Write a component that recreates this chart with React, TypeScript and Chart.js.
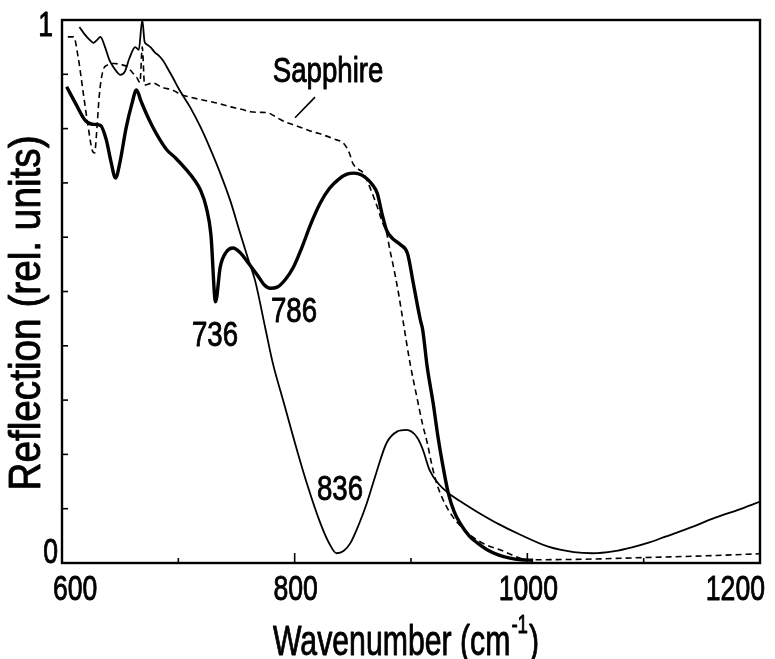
import React, { useEffect, useRef } from 'react';
import { Chart, registerables } from 'chart.js';

Chart.register(...registerables);

const FONT = '"Liberation Sans", Arial, sans-serif';

// Thick curve
const thickX = [604, 612, 620, 626, 633, 638, 642, 646, 650, 655, 660, 664, 668, 673, 678, 684, 690, 698, 707, 714, 719, 724, 728, 732, 736, 741, 747, 753, 760, 768, 774, 779, 785, 792, 799, 806, 814, 822, 830, 838, 845, 851, 858, 863, 867, 871, 875, 879, 884, 891, 897, 902, 908, 910, 914, 919, 923, 927, 932, 937, 942, 950, 957, 965, 975, 985, 995, 1005];
const thickY = [0.877, 0.845, 0.815, 0.808, 0.806, 0.78, 0.74, 0.709, 0.74, 0.8, 0.845, 0.871, 0.85, 0.825, 0.803, 0.78, 0.761, 0.745, 0.724, 0.705, 0.687, 0.655, 0.605, 0.481, 0.545, 0.572, 0.58, 0.572, 0.553, 0.53, 0.512, 0.506, 0.508, 0.522, 0.545, 0.58, 0.625, 0.663, 0.69, 0.707, 0.716, 0.718, 0.714, 0.706, 0.696, 0.681, 0.644, 0.613, 0.598, 0.586, 0.57, 0.515, 0.448, 0.43, 0.36, 0.295, 0.235, 0.184, 0.129, 0.095, 0.074, 0.05, 0.037, 0.025, 0.015, 0.009, 0.006, 0.005];

// Thin curve
const thinX = [615, 619, 624, 627, 630, 633, 637, 641, 644, 647, 650, 654, 658, 663, 666, 669, 671, 673, 676, 680, 683, 687, 690, 695, 701, 710, 719, 727, 736, 745, 753, 760, 766, 775, 781, 790, 807, 822, 830, 836, 842, 848, 855, 862, 870, 879, 888, 896, 905, 910, 916, 924, 932, 945, 957, 975, 994, 1018, 1040, 1056, 1075, 1090, 1105, 1118, 1140, 1161, 1180, 1200];
const thinY = [0.987, 0.975, 0.963, 0.958, 0.963, 0.969, 0.95, 0.925, 0.914, 0.905, 0.899, 0.905, 0.93, 0.95, 0.945, 1.0, 0.96, 0.955, 0.95, 0.94, 0.935, 0.925, 0.914, 0.895, 0.871, 0.84, 0.803, 0.765, 0.718, 0.665, 0.608, 0.56, 0.52, 0.43, 0.37, 0.3, 0.171, 0.074, 0.035, 0.018, 0.022, 0.037, 0.07, 0.11, 0.165, 0.221, 0.242, 0.245, 0.232, 0.21, 0.171, 0.145, 0.129, 0.11, 0.094, 0.072, 0.052, 0.03, 0.02, 0.018, 0.022, 0.029, 0.038, 0.048, 0.065, 0.083, 0.097, 0.113];

// Sapphire (dashed)
const sapphireX = [605, 610, 614, 618, 622, 626, 628, 630, 632, 635, 639, 645, 650, 656, 661, 664, 667, 669, 671, 678, 686, 695, 703, 710, 720, 733, 745, 755, 762, 770, 777, 785, 792, 799, 808, 816, 825, 835, 842, 847, 850, 855, 859, 865, 871, 875, 879, 882, 885, 889, 893, 899, 905, 910, 914, 918, 922, 929, 936, 944, 953, 965, 977, 990, 1000, 1050, 1100, 1150, 1200];
const sapphireY = [0.969, 0.969, 0.93, 0.87, 0.81, 0.76, 0.755, 0.8, 0.86, 0.905, 0.917, 0.92, 0.918, 0.914, 0.902, 0.895, 0.885, 0.95, 0.88, 0.884, 0.876, 0.871, 0.862, 0.858, 0.853, 0.847, 0.84, 0.835, 0.831, 0.83, 0.829, 0.82, 0.812, 0.807, 0.8, 0.794, 0.788, 0.78, 0.773, 0.755, 0.736, 0.725, 0.718, 0.69, 0.656, 0.63, 0.608, 0.575, 0.545, 0.5, 0.448, 0.37, 0.306, 0.255, 0.221, 0.18, 0.147, 0.11, 0.085, 0.065, 0.048, 0.033, 0.024, 0.012, 0.006, 0.007, 0.01, 0.013, 0.017];

const xTickLabels = [600, 800, 1000, 1200];
const xMajorTicks = [800, 1000];
const yTickLabels = [0, 1];

const annotations = [
  { text: 'Sapphire', x: 828.7, y: 0.904 },
  { text: '736', x: 731.5, y: 0.418 },
  { text: '786', x: 799.4, y: 0.462 },
  { text: '836', x: 839, y: 0.134 },
];
const leaderLine = { x1: 817.5, y1: 0.858, x2: 800.3, y2: 0.82 };

const yTitle = 'Reflection (rel. units)';
const xTitleMain = 'Wavenumber (cm';
const xTitleSup = '-1';
const xTitleEnd = ')';

const toPoints = (xs: number[], ys: number[]) => xs.map((x, i) => ({ x, y: ys[i] }));

function drawText(ctx: CanvasRenderingContext2D, text: string, x: number, y: number, size: number, sx: number, align: CanvasTextAlign, baseline: CanvasTextBaseline) {
  ctx.save();
  ctx.translate(x, y);
  ctx.scale(sx, 1);
  ctx.font = `${size}px ${FONT}`;
  ctx.textAlign = align;
  ctx.textBaseline = baseline;
  ctx.fillStyle = '#000';
  ctx.strokeStyle = '#000';
  ctx.lineWidth = 0.9;
  ctx.lineJoin = 'round';
  ctx.fillText(text, 0, 0);
  ctx.strokeText(text, 0, 0);
  ctx.restore();
}

function textWidth(ctx: CanvasRenderingContext2D, text: string, size: number, sx: number) {
  ctx.save();
  ctx.font = `${size}px ${FONT}`;
  const w = ctx.measureText(text).width * sx;
  ctx.restore();
  return w;
}

const decorPlugin = {
  id: 'decor',
  afterDatasetsDraw(chart: any) {
    const { ctx, chartArea: a, scales } = chart;
    const xs = scales.x;
    const ys = scales.y;
    ctx.save();
    ctx.strokeStyle = '#000';
    ctx.fillStyle = '#000';
    // frame
    ctx.lineWidth = 2.4;
    ctx.strokeRect(a.left, a.top, a.right - a.left, a.bottom - a.top);
    // y inward ticks
    ctx.lineWidth = 1.6;
    ys.ticks.forEach((t: any) => {
      const py = ys.getPixelForValue(t.value);
      ctx.beginPath();
      ctx.moveTo(a.left, py);
      ctx.lineTo(a.left + 6, py);
      ctx.stroke();
    });
    // x inward ticks
    xs.ticks.forEach((t: any) => {
      const px = xs.getPixelForValue(t.value);
      const len = xMajorTicks.includes(t.value) ? 10 : 5;
      ctx.beginPath();
      ctx.moveTo(px, a.bottom);
      ctx.lineTo(px, a.bottom - len);
      ctx.stroke();
    });

    // x tick labels
    xTickLabels.forEach((v, i) => {
      const px = xs.getPixelForValue(v);
      if (i === 0) drawText(ctx, String(v), px - 9, a.bottom + 27, 35, 0.76, 'left', 'middle');
      else if (i === xTickLabels.length - 1) drawText(ctx, String(v), px + 5, a.bottom + 27, 35, 0.76, 'right', 'middle');
      else drawText(ctx, String(v), px + 1, a.bottom + 27, 35, 0.76, 'center', 'middle');
    });
    // y tick labels
    yTickLabels.forEach((v) => {
      const py = ys.getPixelForValue(v);
      const dy = v === 0 ? -10 : 6;
      const right = v === 0 ? a.left - 4 : a.left - 9;
      drawText(ctx, String(v), right, py + dy, 35, 0.76, 'right', 'middle');
    });

    // annotations
    annotations.forEach((an) => {
      drawText(ctx, an.text, xs.getPixelForValue(an.x), ys.getPixelForValue(an.y), 35, 0.79, 'center', 'middle');
    });
    ctx.lineWidth = 1.6;
    ctx.beginPath();
    ctx.moveTo(xs.getPixelForValue(leaderLine.x1), ys.getPixelForValue(leaderLine.y1));
    ctx.lineTo(xs.getPixelForValue(leaderLine.x2), ys.getPixelForValue(leaderLine.y2));
    ctx.stroke();

    // y title
    ctx.save();
    ctx.translate(28, 313);
    ctx.rotate(-Math.PI / 2);
    drawText(ctx, yTitle, 0, 0, 44, 0.88, 'center', 'middle');
    ctx.restore();

    // x title with superscript
    const sx = 0.72;
    const w1 = textWidth(ctx, xTitleMain, 42, sx);
    const w2 = textWidth(ctx, xTitleSup, 26, sx);
    const w3 = textWidth(ctx, xTitleEnd, 42, sx);
    const total = w1 + w2 + w3 + 2;
    let cx = 406 - total / 2;
    const base = 655;
    drawText(ctx, xTitleMain, cx, base, 42, sx, 'left', 'alphabetic');
    cx += w1 + 1;
    drawText(ctx, xTitleSup, cx, base - 22, 26, sx, 'left', 'alphabetic');
    cx += w2 + 1;
    drawText(ctx, xTitleEnd, cx, base, 42, sx, 'left', 'alphabetic');
    ctx.restore();
  },
};

export default function App() {
  const canvasRef = useRef<HTMLCanvasElement | null>(null);

  useEffect(() => {
    document.body.style.margin = '0';
    document.body.style.overflow = 'hidden';
    const canvas = canvasRef.current;
    if (!canvas) return;
    const chart = new Chart(canvas, {
      type: 'line',
      data: {
        datasets: [
          {
            label: 'sample thick',
            data: toPoints(thickX, thickY),
            borderColor: '#000',
            borderWidth: 3.4,
            pointRadius: 0,
            fill: false,
            cubicInterpolationMode: 'monotone',
          },
          {
            label: 'sample thin',
            data: toPoints(thinX, thinY),
            borderColor: '#000',
            borderWidth: 1.8,
            pointRadius: 0,
            fill: false,
            cubicInterpolationMode: 'monotone',
          },
          {
            label: 'Sapphire',
            data: toPoints(sapphireX, sapphireY),
            borderColor: '#000',
            borderWidth: 1.6,
            borderDash: [6, 4],
            pointRadius: 0,
            fill: false,
            cubicInterpolationMode: 'monotone',
          },
        ],
      },
      options: {
        animation: false,
        responsive: false,
        devicePixelRatio: 1,
        layout: { padding: { top: 20, right: 15, left: 0, bottom: 0 } },
        plugins: { legend: { display: false }, tooltip: { enabled: false } },
        scales: {
          x: {
            type: 'linear',
            min: 600,
            max: 1200,
            grid: { display: false, drawTicks: false },
            border: { display: false },
            ticks: { display: false, stepSize: 100, autoSkip: false },
            afterFit: (s: any) => {
              s.height = 96;
              s.paddingLeft = 0;
              s.paddingRight = 0;
            },
          },
          y: {
            type: 'linear',
            min: 0,
            max: 1,
            grid: { display: false, drawTicks: false },
            border: { display: false },
            ticks: { display: false, stepSize: 0.1, autoSkip: false },
            afterFit: (s: any) => {
              s.width = 62;
              s.paddingTop = 0;
              s.paddingBottom = 0;
            },
          },
        },
      },
      plugins: [decorPlugin],
    } as any);
    return () => chart.destroy();
  }, []);

  return (
    <div style={{ width: 775, height: 659, background: '#fff' }}>
      <canvas ref={canvasRef} width={775} height={659} />
    </div>
  );
}
